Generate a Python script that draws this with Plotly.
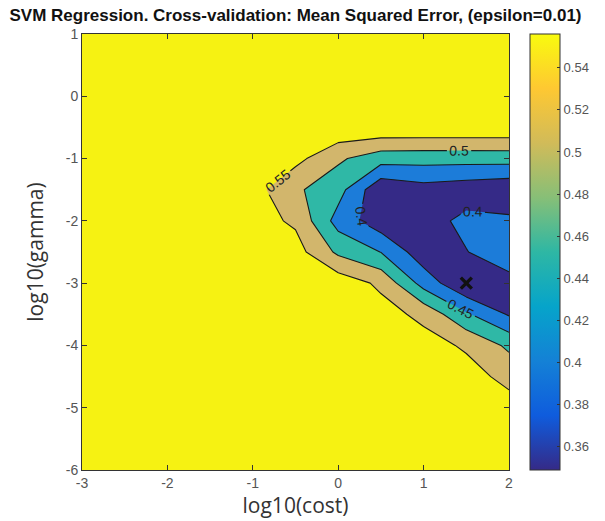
import plotly.graph_objects as go

# ---------------- data ----------------
log_cost = [-3, -2.5, -2, -1.5, -1, -0.5, 0, 0.5, 1, 1.5, 2]
log_gamma = [1, 0.5, 0, -0.5, -1, -1.5, -2, -2.5, -3, -3.5, -4, -4.5, -5, -5.5, -6]

# cross-validated MSE, one row per log10(gamma), one column per log10(cost)
mse = [
    [0.57, 0.57, 0.57, 0.57, 0.57, 0.57, 0.57, 0.57, 0.57, 0.57, 0.57],   # 1
    [0.57, 0.57, 0.57, 0.57, 0.57, 0.57, 0.57, 0.57, 0.57, 0.57, 0.57],   # 0.5
    [0.57, 0.57, 0.57, 0.57, 0.57, 0.57, 0.57, 0.58, 0.58, 0.58, 0.58],   # 0
    [0.57, 0.57, 0.57, 0.57, 0.57, 0.57, 0.59, 0.59, 0.59, 0.59, 0.59],   # -0.5
    [0.57, 0.57, 0.57, 0.57, 0.57, 0.565, 0.508, 0.471, 0.469, 0.469, 0.47],  # -1
    [0.57, 0.57, 0.57, 0.57, 0.57, 0.508, 0.469, 0.36, 0.38, 0.37, 0.36],     # -1.5
    [0.57, 0.57, 0.57, 0.57, 0.57, 0.542, 0.43, 0.37, 0.375, 0.415, 0.41],    # -2
    [0.57, 0.57, 0.57, 0.57, 0.57, 0.57, 0.49, 0.449, 0.37, 0.398, 0.435],    # -2.5
    [0.57, 0.57, 0.57, 0.57, 0.57, 0.57, 0.58, 0.54, 0.43, 0.355, 0.38],      # -3
    [0.57, 0.57, 0.57, 0.57, 0.57, 0.57, 0.57, 0.57, 0.537, 0.457, 0.395],    # -3.5
    [0.57, 0.57, 0.57, 0.57, 0.57, 0.57, 0.57, 0.57, 0.57, 0.543, 0.49],      # -4
    [0.57, 0.57, 0.57, 0.57, 0.57, 0.57, 0.57, 0.57, 0.57, 0.57, 0.535],      # -4.5
    [0.57, 0.57, 0.57, 0.57, 0.57, 0.57, 0.57, 0.57, 0.57, 0.57, 0.57],       # -5
    [0.57, 0.57, 0.57, 0.57, 0.57, 0.57, 0.57, 0.57, 0.57, 0.57, 0.57],       # -5.5
    [0.57, 0.57, 0.57, 0.57, 0.57, 0.57, 0.57, 0.57, 0.57, 0.57, 0.57],       # -6
]

levels_start, levels_end, levels_step = 0.4, 0.55, 0.05
best_cost = [1.5]
best_gamma = [-3]

cbar_min, cbar_max = 0.349, 0.556
cbar_ticks = [0.36, 0.38, 0.40, 0.42, 0.44, 0.46, 0.48, 0.50, 0.52, 0.54]
cbar_ticktext = ["0.36", "0.38", "0.4", "0.42", "0.44", "0.46", "0.48", "0.5", "0.52", "0.54"]
x_ticks = [-3, -2, -1, 0, 1, 2]
x_ticktext = ["-3", "-2", "-1", "0", "1", "2"]
y_ticks = [1, 0, -1, -2, -3, -4, -5, -6]
y_ticktext = ["1", "0", "-1", "-2", "-3", "-4", "-5", "-6"]

# ---------------- styles ----------------
parula = ['#352a87', '#0f5cdd', '#1481d6', '#06a4ca', '#2eb7a4',
          '#87bf77', '#d1bb59', '#fec832', '#f9fb0e']
parula_scale = [[i / (len(parula) - 1), c] for i, c in enumerate(parula)]

band_dark = '#352a87'
band_blue = '#1c7cd9'
band_teal = '#2fb8a6'
band_tan = '#d2b66c'
band_yellow = '#f6f212'
fill_scale = [
    [0.0, band_dark], [0.125, band_dark],
    [0.125, band_blue], [0.375, band_blue],
    [0.375, band_teal], [0.625, band_teal],
    [0.625, band_tan], [0.875, band_tan],
    [0.875, band_yellow], [1.0, band_yellow],
]

W, H = 605, 521
ML, MR, MT, MB = 82, 88, 34, 51
plot_w = W - ML - MR

fig = go.Figure()

fig.add_trace(go.Contour(
    x=log_cost, y=log_gamma, z=mse,
    colorscale=fill_scale,
    showscale=False,
    contours=dict(start=levels_start, end=levels_end, size=levels_step,
                  coloring='fill', showlabels=True,
                  labelfont=dict(size=14, color='#222222', family='Liberation Sans')),
    line=dict(color='#1a1a1a', width=1.1, smoothing=0),
    hoverinfo='skip',
))

fig.add_trace(go.Scatter(
    x=best_cost, y=best_gamma, mode='markers',
    marker=dict(symbol='x-thin', size=11, line=dict(width=3.4, color='#111111')),
    showlegend=False, hoverinfo='skip',
))

# dummy trace carrying the continuous colourbar
fig.add_trace(go.Scatter(
    x=[log_cost[0]], y=[log_gamma[-1]], mode='markers',
    marker=dict(size=1, opacity=0, color=[cbar_min], colorscale=parula_scale,
                cmin=cbar_min, cmax=cbar_max, showscale=True,
                colorbar=dict(
                    x=(538 - ML) / plot_w, xanchor='left', xpad=0,
                    y=0.5, yanchor='middle', ypad=0,
                    len=1, lenmode='fraction', thickness=30,
                    outlinecolor='#333333', outlinewidth=1,
                    tickvals=cbar_ticks, ticktext=cbar_ticktext,
                    ticks='inside', ticklen=3, tickcolor='#333333',
                    tickfont=dict(size=13, color='#555555', family='Liberation Sans'),
                )),
    showlegend=False, hoverinfo='skip',
))

axis_common = dict(
    showline=True, linecolor='#333333', linewidth=1, mirror='ticks',
    ticks='inside', ticklen=5, tickcolor='#333333', showgrid=False, zeroline=False,
    tickfont=dict(size=14, color='#555555', family='Liberation Sans'),
)

fig.update_layout(
    width=W, height=H,
    margin=dict(l=ML, r=MR, t=MT, b=MB),
    paper_bgcolor='white', plot_bgcolor='white',
    title=dict(text='<b>SVM Regression. Cross-validation: Mean Squared Error, (epsilon=0.01)</b>',
               x=0.5, xref='paper', xanchor='center',
               y=1 - 15 / H, yref='container', yanchor='middle',
               font=dict(size=17, color='#111111', family='Liberation Sans')),
    xaxis=dict(range=[-3, 2], tickvals=x_ticks, ticktext=x_ticktext,
               title=dict(text='log10(cost)', standoff=4,
                          font=dict(size=21, color='#333333', family='Open Sans')),
               **axis_common),
    yaxis=dict(range=[-6, 1], tickvals=y_ticks, ticktext=y_ticktext,
               title=dict(text='log10(gamma)', standoff=16,
                          font=dict(size=21, color='#333333', family='Open Sans')),
               **axis_common),
    showlegend=False,
)

fig.write_html('out.html')
